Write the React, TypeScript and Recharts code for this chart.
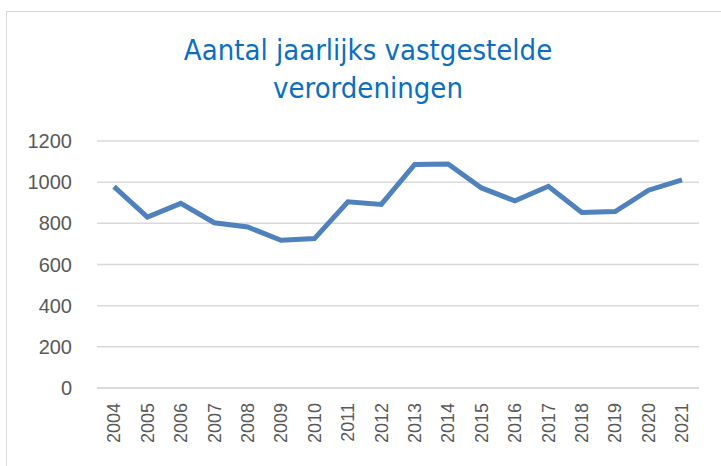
import { CartesianGrid, Line, LineChart, XAxis, YAxis } from 'recharts'

const years = [
  '2004', '2005', '2006', '2007', '2008', '2009', '2010', '2011', '2012',
  '2013', '2014', '2015', '2016', '2017', '2018', '2019', '2020', '2021',
]
const counts = [
  978, 830, 897, 803, 782, 718, 726, 905, 892,
  1086, 1088, 972, 909, 980, 853, 857, 961, 1011,
]
const yTicks = [0, 200, 400, 600, 800, 1000, 1200]

const data = years.map((year, i) => ({ year, count: counts[i] }))

const tickColor = '#595959'
const gridColor = '#d9d9d9'

function YearTick(props: any) {
  const { x, y, payload } = props
  return (
    <g transform={`translate(${x},${y})`}>
      <text
        transform="rotate(-90)"
        textAnchor="end"
        dy="0.35em"
        fill={tickColor}
        fontSize={18}
        fontFamily="'Liberation Sans', Arial, sans-serif"
      >
        {payload.value}
      </text>
    </g>
  )
}

export default function App() {
  return (
    <div style={{ position: 'absolute', left: 0, top: 0, width: 721, height: 466, background: '#fff', overflow: 'hidden' }}>
      <div
        style={{
          position: 'absolute',
          left: 6,
          top: 11,
          width: 730,
          height: 470,
          border: `1.5px solid ${gridColor}`,
          boxSizing: 'border-box',
        }}
      />
      <div
        style={{
          position: 'absolute',
          left: 0,
          top: 31,
          width: 736,
          textAlign: 'center',
          color: '#0a6fc2',
          fontFamily: "'Liberation Sans Narrow', 'DejaVu Sans Condensed', sans-serif",
          fontSize: 29,
          lineHeight: '38px',
        }}
      >
        Aantal jaarlijks vastgestelde
        <br />
        verordeningen
      </div>
      <div style={{ position: 'absolute', left: 0, top: 0 }}>
        <LineChart width={721} height={466} data={data} margin={{ top: 141, right: 22, bottom: 0, left: 0 }}>
          <CartesianGrid vertical={false} stroke={gridColor} strokeWidth={1.5} />
          <XAxis
            dataKey="year"
            height={78}
            interval={0}
            padding={{ left: 17, right: 17 }}
            tickLine={false}
            axisLine={{ stroke: gridColor, strokeWidth: 1.5 }}
            tick={<YearTick />}
            tickSize={0}
            tickMargin={15}
          />
          <YAxis
            width={97}
            domain={[0, 1200]}
            ticks={yTicks}
            interval={0}
            axisLine={false}
            tickLine={false}
            tickSize={0}
            tickMargin={25}
            tick={{ fill: tickColor, fontSize: 20, fontFamily: "'Liberation Sans', Arial, sans-serif" }}
          />
          <Line
            type="linear"
            dataKey="count"
            stroke="#4f81bd"
            strokeWidth={5}
            dot={false}
            isAnimationActive={false}
          />
        </LineChart>
      </div>
    </div>
  )
}
